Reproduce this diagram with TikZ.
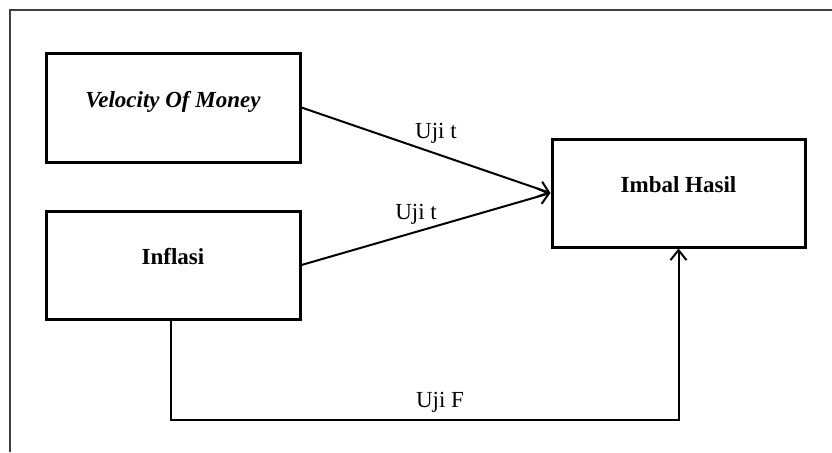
\documentclass[tikz,border=0pt]{standalone}
\usepackage{fontspec}
\setmainfont{Liberation Serif}
\usepackage{tikz}
\usetikzlibrary{arrows.meta}
\usetikzlibrary{positioning}

\tikzset{
	varbox/.style={draw, line width=1.5pt, rectangle, font=\fontsize{11.5}{14}\selectfont\bfseries,
		text height=8pt, text depth=8.4pt},
	path/.style={line width=1pt, -{Straight Barb[length=5pt, width=8pt]}},
	lbl/.style={font=\fontsize{11.5}{14}\selectfont}
}

\begin{document}
\begin{tikzpicture}[x=0.5pt, y=-0.5pt]
		\useasboundingbox (0,0) rectangle (832,452);
		\draw[line width=0.6pt, black!75] (832,10) -- (10,10) -- (10,452);
		
		\node[varbox, minimum width=127pt, minimum height=54.5pt] (VOM) at (173,107.5) {\itshape Velocity Of Money};
		\node[varbox, minimum width=127pt, minimum height=54pt] (INF) at (173,265) {Inflasi};
		\node[varbox, minimum width=126.5pt, minimum height=54pt] (IMB) at (678.5,193) {Imbal Hasil};
		\coordinate (FL) at (171,420);
		\coordinate (FR) at (678.5,420);
		
		\draw[path] (VOM.east) -- (IMB.west) node[lbl, pos=.54, above=1.5pt] {Uji t};
		\draw[path] (INF.east) -- (IMB.west) node[lbl, pos=.46, above] {Uji t};
		\draw[path] (INF.south -| FL) -- (FL) -- (FR) node[lbl, pos=.53, above] {Uji F} -- (IMB.south);
		\end{tikzpicture}
\end{document}
